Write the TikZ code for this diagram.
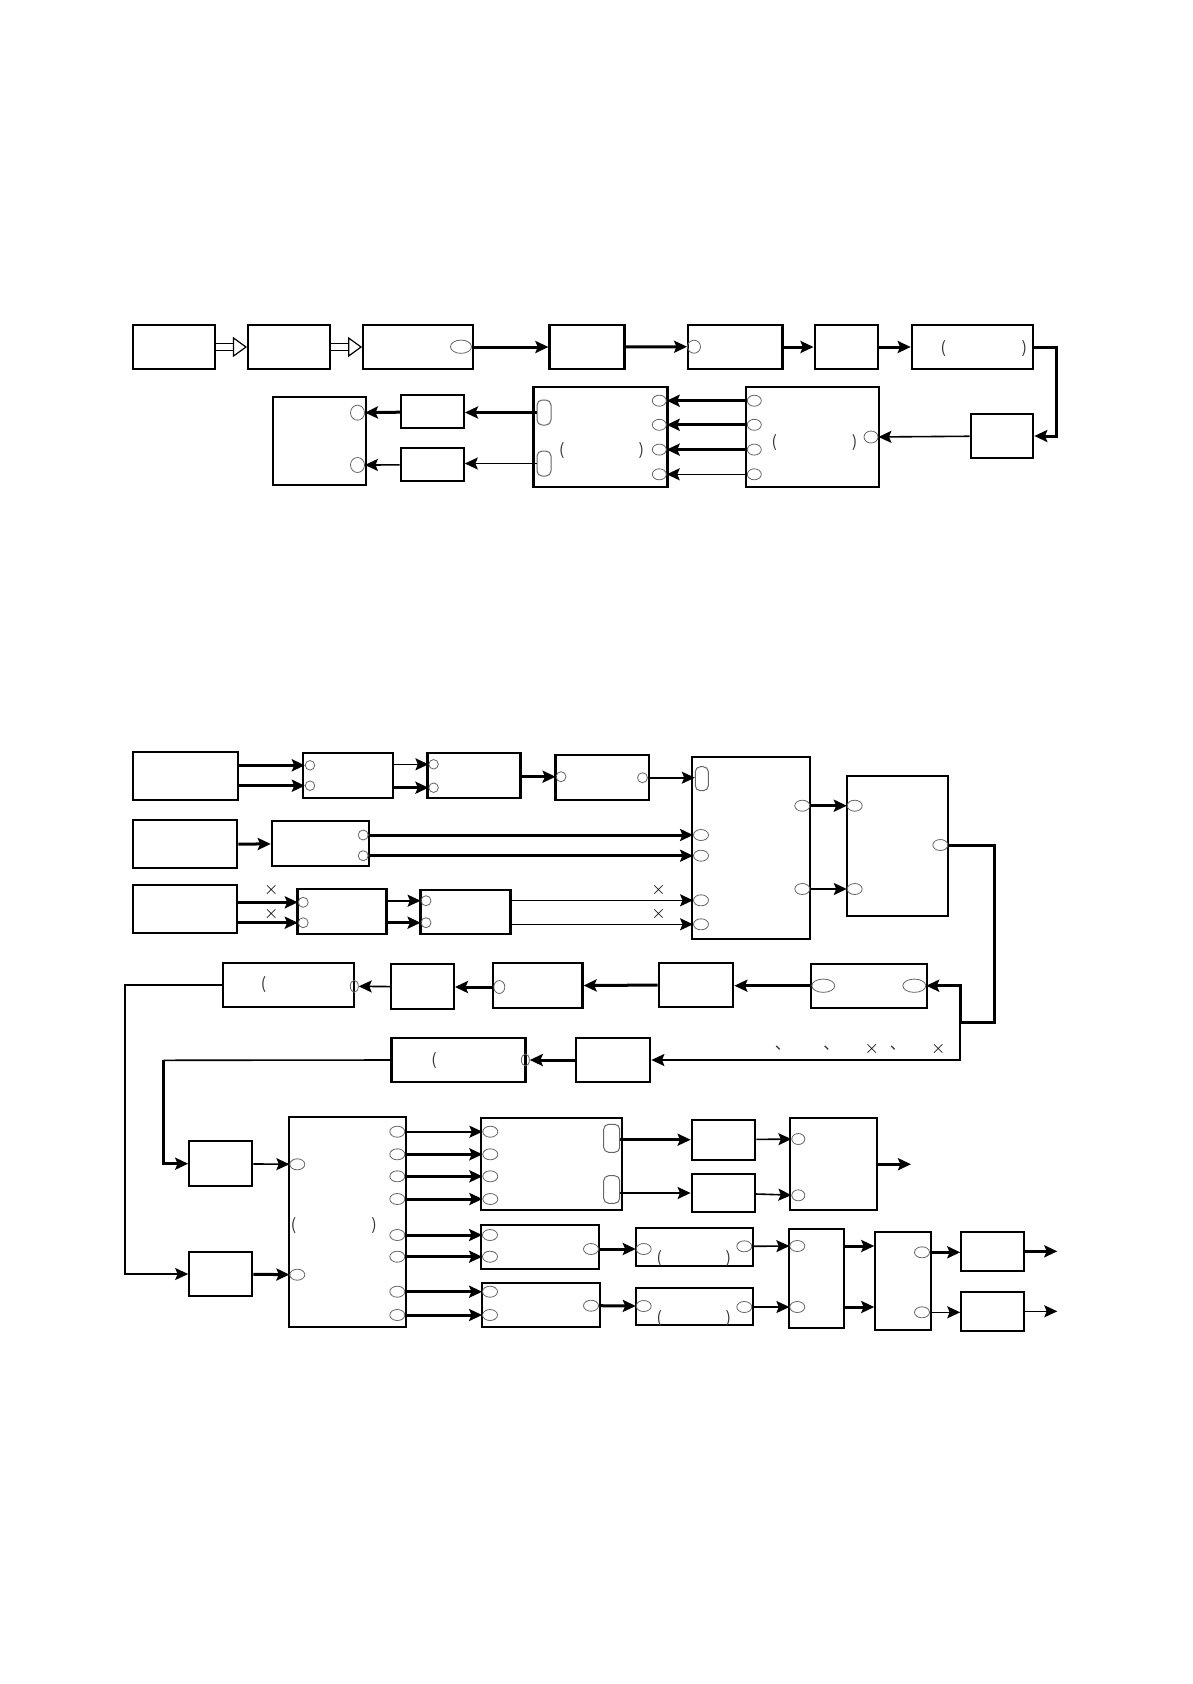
\documentclass[tikz,border=0pt]{standalone}
\usepackage{fontspec}
\usepackage{tikz}
\usetikzlibrary{arrows.meta,shapes.geometric}
\newfontfamily\cjk{Noto Sans CJK SC}
\newcommand{\pu}{0.4994pt}

\begin{document}
\begin{tikzpicture}[
    x=0.4994pt, y=-0.4994pt,
    box/.style={rectangle, draw, line width=1.1pt, inner sep=0pt},
    sz/.style 2 args={minimum width=#1*\pu, minimum height=#2*\pu},
    port/.style={ellipse, draw=black!60, line width=0.4pt, inner sep=0pt},
    rport/.style={rectangle, rounded corners=2.5pt, draw=black!60, line width=0.5pt, inner sep=0pt},
    arrow/.style={-{Stealth[length=6.5pt, width=6pt, inset=1.2pt]}, line width=1.5pt},
    tarrow/.style={-{Stealth[length=6.5pt, width=6pt, inset=1.2pt]}, line width=0.8pt},
    hollow/.style={double, double distance=2.9pt, line width=0.6pt, -{Triangle[open, length=7pt, width=10pt]}},
    glyph/.style={inner sep=0pt, font=\cjk\fontsize{8}{8}\selectfont, text=black!80},
    cross/.style={inner sep=0pt, font=\small}
  ]
    \useasboundingbox (0,0) rectangle (1192,1684);

    \node[box, sz={82}{44.6}] (a1) at (174.3,347) {};
    \node[box, sz={82}{44.6}] (a2) at (289.1,347) {};
    \node[box, sz={110}{44.6}] (a3) at (418.2,347) {};
    \node[box, sz={75}{44.6}] (a4) at (587,347) {};
    \node[box, sz={94.6}{44.6}] (a5) at (735.2,347) {};
    \node[box, sz={63.6}{44.6}] (a6) at (846.4,347) {};
    \node[box, sz={121.4}{44.6}] (a7) at (972.5,347) {};
    \node[box, sz={62.5}{43.7}] (a8) at (1002,436) {};
    \node[box, sz={133.2}{100.3}] (dist) at (812.3,436.8) {};
    \node[box, sz={134}{100.3}] (ctrl) at (600.5,436.8) {};
    \node[box, sz={62.5}{33}] (drv1) at (432.6,411.8) {};
    \node[box, sz={63}{33}] (drv2) at (432.2,464.8) {};
    \node[box, sz={92.8}{88.6}] (load) at (319.3,441) {};

    \node[port, sz={21}{13.3}] (a3o) at (461,346.7) {};
    \node[port, sz={13}{13}] (a5i) at (694,346.7) {};
    \foreach \y [count=\i] in {400.7,424.8,449.6,474.3} {
      \node[port, sz={14}{11}] (di\i) at (754.3,\y) {};
      \node[port, sz={14}{11}] (co\i) at (659.3,\y) {};
    }
    \node[port, sz={14}{12}] (do) at (871,437) {};
    \node[rport, sz={14}{25}] (cr1) at (544,412.5) {};
    \node[rport, sz={14}{25}] (cr2) at (544,463.5) {};
    \node[port, sz={14}{15}] (li1) at (357.5,412.7) {};
    \node[port, sz={14}{15}] (li2) at (357.5,465) {};

    \node[glyph] (pa1) at (943.2,349) {(};
    \node[glyph] (pa2) at (1024.3,349) {)};
    \node[glyph] (pd1) at (774.3,442.7) {(};
    \node[glyph] (pd2) at (854.6,442.7) {)};
    \node[glyph] (pc1) at (561.8,451) {(};
    \node[glyph] (pc2) at (641.4,451) {)};

    \draw[hollow] (a1) -- (a2);
    \draw[hollow] (a2) -- (a3);
    \draw[arrow] (a3) -- (a4);
    \draw[arrow] (a4) -- (a5i);
    \draw[arrow] (a5) -- (a6);
    \draw[arrow] (a6) -- (a7);
    \draw[arrow] (a7.east) -- ++(22,0) |- (a8.east);
    \draw[tarrow] (a8) -- (do);
    \foreach \i in {1,2,3}
      \draw[arrow] (di\i.west) -- (co\i.east);
    \draw[tarrow] (di4.west) -- (co4.east);
    \draw[arrow] (cr1.west) -- (drv1.east |- cr1);
    \draw[tarrow] (cr2.west) -- (drv2.east |- cr2);
    \draw[arrow] (drv1) -- (li1);
    \draw[tarrow] (drv2) -- (li2);

    \node[box, sz={105}{48}] (b1) at (185.7,775.7) {};
    \node[box, sz={90}{45}] (b2) at (348.2,775.8) {};
    \node[box, sz={93}{45}] (b3) at (474,775.8) {};
    \node[box, sz={93.5}{44.4}] (b4) at (602.2,777.5) {};
    \node[box, sz={118}{181.7}] (core) at (751.3,848.2) {};
    \node[box, sz={101.6}{139.4}] (proc) at (897.5,846) {};
    \node[box, sz={104}{48}] (c1) at (185.2,844.3) {};
    \node[box, sz={97.5}{44.7}] (c2) at (320.6,843.7) {};
    \node[box, sz={104}{47.7}] (d1) at (185.2,909.2) {};
    \node[box, sz={89}{44.4}] (d2) at (342,911.5) {};
    \node[box, sz={90}{44.3}] (d3) at (465.4,911.8) {};

    \node[port, sz={9.5}{9.5}] (b2i1) at (310,765.3) {};
    \node[port, sz={9.5}{9.5}] (b2i2) at (310,785.7) {};
    \node[port, sz={9.5}{9.5}] (b3i1) at (433.6,764.3) {};
    \node[port, sz={9.5}{9.5}] (b3i2) at (433.6,787.7) {};
    \node[port, sz={10}{10}] (b4i) at (561,776.7) {};
    \node[port, sz={10}{10}] (b4o) at (642.5,777.7) {};
    \node[port, sz={10}{10}] (c2o1) at (363.2,835) {};
    \node[port, sz={10}{10}] (c2o2) at (363.2,855.7) {};
    \node[port, sz={10}{10}] (d2i1) at (303.2,902.3) {};
    \node[port, sz={10}{10}] (d2i2) at (303.2,922.7) {};
    \node[port, sz={10}{10}] (d3i1) at (426,900.7) {};
    \node[port, sz={10}{10}] (d3i2) at (426,922.7) {};
    \node[rport, sz={13}{24}] (corer) at (701.8,778.7) {};
    \foreach \y [count=\i] in {835,855.7,900.3,924.3}
      \node[port, sz={15}{11}] (ci\i) at (701,\y) {};
    \node[port, sz={15}{11}] (co1) at (802.3,805.7) {};
    \node[port, sz={15}{11}] (co2) at (802.3,889) {};
    \node[port, sz={15}{11}] (pi1) at (854.7,805.7) {};
    \node[port, sz={15}{11}] (pi2) at (854.7,889) {};
    \node[port, sz={15}{11}] (po) at (940.3,845) {};

    \node[cross] (x1) at (271.4,890) {$\times$};
    \node[cross] (x2) at (271.4,914) {$\times$};
    \node[cross] (x3) at (658.5,890) {$\times$};
    \node[cross] (x4) at (658.5,914) {$\times$};

    \draw[arrow] (b1.east |- b2i1) -- (b2i1.west);
    \draw[arrow] (b1.east |- b2i2) -- (b2i2.west);
    \draw[tarrow] (b2.east |- b3i1) -- (b3i1.west);
    \draw[arrow] (b2.east |- b3i2) -- (b3i2.west);
    \draw[arrow] (b3.east |- b4i) -- (b4i.west);
    \draw[tarrow] (b4o.east) -- (corer.west |- b4o);
    \draw[arrow] (c1) -- (c2);
    \draw[arrow] (c2o1.east) -- (ci1.west);
    \draw[arrow] (c2o2.east) -- (ci2.west);
    \draw[arrow] (d1.east |- d2i1) -- (d2i1.west);
    \draw[arrow] (d1.east |- d2i2) -- (d2i2.west);
    \draw[tarrow] (d2.east |- d3i1) -- (d3i1.west);
    \draw[arrow] (d2.east |- d3i2) -- (d3i2.west);
    \draw[tarrow] (d3.east |- ci3) -- (ci3.west);
    \draw[tarrow] (d3.east |- ci4) -- (ci4.west);
    \draw[arrow] (co1.east) -- (pi1.west);
    \draw[tarrow] (co2.east) -- (pi2.west);

    \node[box, sz={116}{44}] (f1) at (868.7,986) {};
    \node[box, sz={74.6}{44.3}] (f2) at (696,984.8) {};
    \node[box, sz={89.6}{45}] (f3) at (537.7,985.8) {};
    \node[box, sz={62.5}{45}] (f4) at (422.6,986.8) {};
    \node[box, sz={131}{44.6}] (f5) at (288.7,985) {};
    \node[box, sz={74.6}{44.6}] (g1) at (613,1060) {};
    \node[box, sz={134}{44.6}] (g2) at (458.4,1060) {};

    \node[port, sz={23}{13.3}] (f1i) at (823.3,985.7) {};
    \node[port, sz={23}{13.3}] (f1o) at (914.3,985.7) {};
    \node[port, sz={11}{13}] (f3i) at (499.3,987) {};
    \node[port, sz={8}{12}] (f5o) at (354.3,986.3) {};
    \node[port, sz={8}{12}] (g2o) at (525.4,1060) {};
    \node[glyph] (pf) at (263.6,985) {(};
    \node[glyph] (pg) at (434,1061) {(};

    \node[glyph] (cm1) at (783,1048) {、};
    \node[glyph] (cm2) at (831.3,1048) {、};
    \node[glyph] (cm3) at (898,1048) {、};
    \node[cross] (x5) at (871.7,1048.7) {$\times$};
    \node[cross] (x6) at (938.3,1048.7) {$\times$};

    \coordinate (bend) at (994,1022.7);
    \coordinate (split) at (960,1022.7);
    \coordinate (lft) at (125,1274);
    \coordinate (lft2) at (163.6,1060.3);
    \draw[line width=1.5pt] (po.east) -| (bend) -- (split);
    \draw[arrow] (split) |- (f1o.east);
    \draw[tarrow] (split) |- (g1.east);
    \draw[arrow] (f1i.west) -- (f2.east |- f1i);
    \draw[arrow] (f2) -- (f3);
    \draw[arrow] (f3i.west) -- (f4.east |- f3i);
    \draw[tarrow] (f4) -- (f5o);
    \draw[arrow] (g1) -- (g2o);

    \node[box, sz={63}{44.7}] (h1) at (220.8,1163.7) {};
    \node[box, sz={63}{44.6}] (h2) at (220.8,1274) {};
    \node[box, sz={117.6}{209.7}] (mux) at (347.5,1222.2) {};
    \node[box, sz={140.7}{92.3}] (k1) at (551.7,1163.8) {};
    \node[box, sz={118.6}{44}] (k2) at (540,1247) {};
    \node[box, sz={118.3}{44.3}] (k3) at (540.8,1304.8) {};
    \node[box, sz={63.6}{40}] (m1) at (723.5,1139.7) {};
    \node[box, sz={63}{38.6}] (m2) at (723.2,1193) {};
    \node[box, sz={87.6}{91.7}] (n1) at (833.5,1164.2) {};
    \node[box, sz={117.3}{38}] (q1) at (694.3,1246.7) {};
    \node[box, sz={117.6}{37.6}] (q2) at (694.5,1306.5) {};
    \node[box, sz={55.6}{99.3}] (r1) at (816.5,1278.3) {};
    \node[box, sz={55.7}{98.6}] (r2) at (903.2,1281) {};
    \node[box, sz={62.7}{39.3}] (s1) at (992.7,1251.3) {};
    \node[box, sz={62.7}{38.7}] (s2) at (992.7,1311.3) {};

    \node[port, sz={15}{11}] (mi1) at (297.3,1164.3) {};
    \node[port, sz={15}{11}] (mi2) at (297.3,1274.7) {};
    \foreach \y [count=\i] in {1131.7,1154.3,1176.3,1199,1235,1256.7,1291.7,1315}
      \node[port, sz={15}{11}] (mo\i) at (397.3,\y) {};
    \foreach \y [count=\i] in {1131.7,1154.3,1176.3,1199}
      \node[port, sz={15}{11}] (ki\i) at (490.3,\y) {};
    \node[rport, sz={16}{28}] (kr1) at (611.7,1138.3) {};
    \node[rport, sz={16}{27.6}] (kr2) at (611.7,1189.5) {};
    \node[port, sz={15}{11}] (k2i1) at (490,1235) {};
    \node[port, sz={15}{11}] (k2i2) at (490,1256.7) {};
    \node[port, sz={15}{11}] (k2o) at (591,1249) {};
    \node[port, sz={15}{11}] (k3i1) at (490,1291.7) {};
    \node[port, sz={15}{11}] (k3i2) at (490,1315) {};
    \node[port, sz={15}{11}] (k3o) at (591,1305.7) {};
    \node[port, sz={13}{11}] (n1i1) at (798.3,1139) {};
    \node[port, sz={13}{11}] (n1i2) at (798.3,1195.3) {};
    \node[port, sz={15}{11}] (q1i) at (643.7,1249) {};
    \node[port, sz={15}{11}] (q1o) at (744.3,1246.3) {};
    \node[port, sz={15}{11}] (q2i) at (643.7,1306) {};
    \node[port, sz={15}{11}] (q2o) at (744.3,1307) {};
    \node[port, sz={15}{11}] (r1i1) at (797.3,1246) {};
    \node[port, sz={15}{11}] (r1i2) at (797.3,1307) {};
    \node[port, sz={15}{11}] (r2o1) at (922,1252.3) {};
    \node[port, sz={15}{11}] (r2o2) at (922,1312.3) {};

    \node[glyph] (pm1) at (293.7,1225.3) {(};
    \node[glyph] (pm2) at (374,1225.3) {)};
    \node[glyph] (pq1) at (659.3,1258.7) {(};
    \node[glyph] (pq2) at (728.3,1258.7) {)};
    \node[glyph] (pq3) at (659.3,1318.7) {(};
    \node[glyph] (pq4) at (728.3,1318.7) {)};

    \coordinate (nout) at (911,1164.2);
    \coordinate (s1out) at (1057.3,1251.3);
    \coordinate (s2out) at (1057.3,1311.3);

    \draw[tarrow] (f5.west) -| (lft) -- (h2.west);
    \draw[line width=0.8pt] (g2.west) -- (lft2);
    \draw[arrow] (lft2) |- (h1.west);
    \draw[tarrow] (h1) -- (mi1);
    \draw[arrow] (h2) -- (mi2);
    \draw[tarrow] (mo1.east) -- (ki1.west);
    \foreach \i in {2,3,4}
      \draw[arrow] (mo\i.east) -- (ki\i.west);
    \foreach \i/\t in {5/k2i1,6/k2i2,7/k3i1,8/k3i2}
      \draw[arrow] (mo\i.east) -- (\t.west);
    \draw[arrow] (kr1.east |- m1.west) -- (m1.west);
    \draw[tarrow] (kr2.east |- m2.west) -- (m2.west);
    \draw[tarrow] (m1) -- (n1i1);
    \draw[tarrow] (m2) -- (n1i2);
    \draw[arrow] (n1) -- (nout);
    \draw[arrow] (k2o.east) -- (q1i.west);
    \draw[arrow] (k3o.east) -- (q2i.west);
    \draw[tarrow] (q1o.east) -- (r1i1.west);
    \draw[tarrow] (q2o.east) -- (r1i2.west);
    \draw[arrow] (r1.east |- r1i1) -- (r2.west |- r1i1);
    \draw[arrow] (r1.east |- r1i2) -- (r2.west |- r1i2);
    \draw[arrow] (r2o1.east) -- (s1.west |- r2o1);
    \draw[tarrow] (r2o2.east) -- (s2.west |- r2o2);
    \draw[arrow] (s1) -- (s1out);
    \draw[tarrow] (s2) -- (s2out);
  \end{tikzpicture}
\end{document}
